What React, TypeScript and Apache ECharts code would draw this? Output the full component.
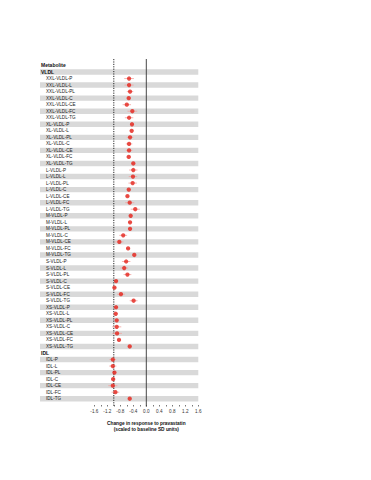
import React, { useEffect, useRef } from "react";
import * as echarts from "echarts";

const headers = ["Metabolite", "VLDL", "IDL"];

const categories = [
  "Metabolite", "VLDL",
  "XXL-VLDL-P", "XXL-VLDL-L", "XXL-VLDL-PL", "XXL-VLDL-C", "XXL-VLDL-CE", "XXL-VLDL-FC", "XXL-VLDL-TG",
  "XL-VLDL-P", "XL-VLDL-L", "XL-VLDL-PL", "XL-VLDL-C", "XL-VLDL-CE", "XL-VLDL-FC", "XL-VLDL-TG",
  "L-VLDL-P", "L-VLDL-L", "L-VLDL-PL", "L-VLDL-C", "L-VLDL-CE", "L-VLDL-FC", "L-VLDL-TG",
  "M-VLDL-P", "M-VLDL-L", "M-VLDL-PL", "M-VLDL-C", "M-VLDL-CE", "M-VLDL-FC", "M-VLDL-TG",
  "S-VLDL-P", "S-VLDL-L", "S-VLDL-PL", "S-VLDL-C", "S-VLDL-CE", "S-VLDL-FC", "S-VLDL-TG",
  "XS-VLDL-P", "XS-VLDL-L", "XS-VLDL-PL", "XS-VLDL-C", "XS-VLDL-CE", "XS-VLDL-FC", "XS-VLDL-TG",
  "IDL",
  "IDL-P", "IDL-L", "IDL-PL", "IDL-C", "IDL-CE", "IDL-FC", "IDL-TG",
];

// Effect estimates (SD units); null for header rows
const estimates: (number | null)[] = [
  null, null,
  -0.53, -0.53, -0.50, -0.54, -0.60, -0.43, -0.53,
  -0.44, -0.45, -0.50, -0.53, -0.53, -0.54, -0.40,
  -0.40, -0.41, -0.42, -0.54, -0.58, -0.51, -0.34,
  -0.48, -0.50, -0.50, -0.71, -0.83, -0.56, -0.37,
  -0.62, -0.68, -0.58, -0.93, -0.98, -0.78, -0.39,
  -0.93, -0.94, -0.91, -0.91, -0.90, -0.84, -0.51,
  null,
  -1.03, -1.03, -0.98, -1.02, -1.03, -0.95, -0.51,
];

// Half-width of 95% confidence intervals
const ciHalfWidth: (number | null)[] = [
  null, null,
  0.15, 0.14, 0.10, 0.07, 0.13, 0.15, 0.13,
  0.06, 0.06, 0.10, 0.10, 0.10, 0.07, 0.07,
  0.13, 0.13, 0.13, 0.06, 0.06, 0.14, 0.14,
  0.06, 0.06, 0.06, 0.12, 0.13, 0.06, 0.06,
  0.13, 0.12, 0.12, 0.06, 0.06, 0.12, 0.12,
  0.06, 0.06, 0.06, 0.14, 0.15, 0.06, 0.06,
  null,
  0.10, 0.11, 0.06, 0.06, 0.14, 0.12, 0.06,
];

const referenceLines = [-1.0, 0.0];
const xTicks = { min: -1.6, max: 1.6, interval: 0.4 };
const xTitle = "Change in response to pravastatin\n(scaled to baseline SD units)";

const FONT = "Liberation Sans, Arial, sans-serif";

export default function App() {
  const ref = useRef<HTMLDivElement>(null);

  useEffect(() => {
    if (!ref.current) return;
    const chart = echarts.init(ref.current, undefined, { renderer: "svg" });

    const rowIdx = categories.map((_, i) => i);

    const bandData = rowIdx.filter((i) => i % 2 === 1).map((i) => [0, i]);
    const labelData = rowIdx.map((i) => [0, i]);

    const ciData = rowIdx
      .filter((i) => estimates[i] !== null)
      .map((i) => [
        (estimates[i] as number) - (ciHalfWidth[i] as number),
        (estimates[i] as number) + (ciHalfWidth[i] as number),
        i,
      ]);

    const pointData = rowIdx
      .filter((i) => estimates[i] !== null)
      .map((i) => [estimates[i], i]);

    chart.setOption({
      animation: false,
      grid: { left: 94.3, width: 104, top: 62.2, height: 339.8 },
      xAxis: {
        type: "value",
        min: xTicks.min,
        max: xTicks.max,
        interval: xTicks.interval,
        offset: 3,
        axisLine: { show: false },
        axisTick: { show: true, length: 1.5, lineStyle: { color: "#555", width: 0.8 } },
        minorTick: { show: true, splitNumber: 2, length: 1.5, lineStyle: { color: "#555", width: 0.8 } },
        splitLine: { show: false },
        axisLabel: {
          fontSize: 4.6,
          fontFamily: FONT,
          color: "#333",
          margin: 4.3,
          hideOverlap: false,
          formatter: (v: number) => v.toFixed(1),
        },
        name: xTitle,
        nameLocation: "middle",
        nameGap: 15,
        nameTextStyle: {
          fontSize: 4.8,
          fontWeight: "bold",
          fontFamily: FONT,
          color: "#111",
          lineHeight: 6.3,
          align: "center",
        },
      },
      yAxis: {
        type: "category",
        data: categories,
        inverse: true,
        axisLine: { show: false },
        axisTick: { show: false },
        splitLine: { show: false },
        axisLabel: { show: false },
      },
      series: [
        {
          type: "custom",
          silent: true,
          z: 1,
          data: bandData,
          encode: { x: 0, y: 1 },
          renderItem: (params: any, api: any) => {
            const cs = params.coordSys;
            const y = api.coord([0, api.value(1)])[1];
            const left = cs.x - 54.3;
            return {
              type: "rect",
              shape: { x: left, y: y - 2.7, width: cs.x + cs.width - left, height: 5.4 },
              style: { fill: "#d9d9d9" },
            };
          },
        },
        {
          type: "custom",
          silent: true,
          z: 5,
          data: labelData,
          encode: { x: 0, y: 1 },
          renderItem: (params: any, api: any) => {
            const cs = params.coordSys;
            const idx = api.value(1);
            const name = categories[idx];
            const isHeader = headers.includes(name);
            const y = api.coord([0, idx])[1];
            return {
              type: "text",
              x: cs.x - (isHeader ? 53.3 : 48.3),
              y: y,
              style: {
                text: name,
                fontSize: isHeader ? 5 : 4.6,
                fontWeight: isHeader ? "bold" : "normal",
                fontFamily: FONT,
                fill: isHeader ? "#111" : "#222",
                align: "left",
                verticalAlign: "middle",
              },
            };
          },
        },
        {
          type: "custom",
          silent: true,
          z: 2,
          data: referenceLines.map((v) => [v, 0]),
          encode: { x: 0, y: 1 },
          renderItem: (params: any, api: any) => {
            const cs = params.coordSys;
            const x = api.coord([api.value(0), 0])[0];
            const dashed = params.dataIndex === 0;
            return {
              type: "line",
              shape: { x1: x, y1: cs.y - 3.2, x2: x, y2: cs.y + cs.height + 4.5 },
              style: dashed
                ? { stroke: "#111", lineWidth: 0.9, lineDash: [1.2, 1.2] }
                : { stroke: "#333", lineWidth: 0.9 },
            };
          },
        },
        {
          type: "custom",
          silent: true,
          z: 3,
          data: ciData,
          encode: { x: [0, 1], y: 2 },
          renderItem: (params: any, api: any) => {
            const p1 = api.coord([api.value(0), api.value(2)]);
            const p2 = api.coord([api.value(1), api.value(2)]);
            return {
              type: "line",
              shape: { x1: p1[0], y1: p1[1], x2: p2[0], y2: p2[1] },
              style: { stroke: "#f2a3a0", lineWidth: 0.8 },
            };
          },
        },
        {
          type: "scatter",
          z: 4,
          data: pointData,
          symbol: "circle",
          symbolSize: 4.3,
          itemStyle: { color: "#e3241b" },
        },
      ],
    });

    return () => chart.dispose();
  }, []);

  return (
    <div
      ref={ref}
      style={{ position: "fixed", left: 0, top: 0, width: 371, height: 480, background: "#fff" }}
    />
  );
}
